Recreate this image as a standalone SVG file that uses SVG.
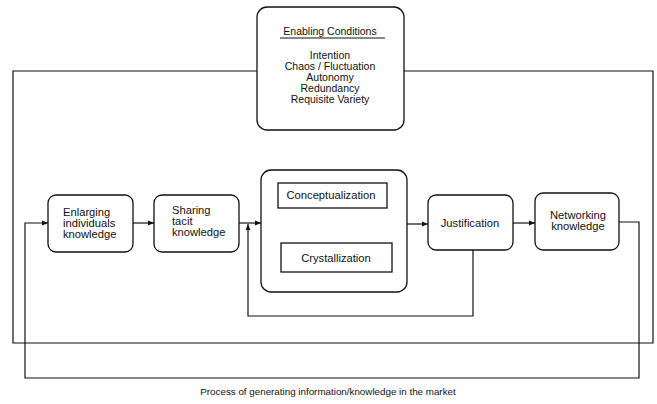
<svg xmlns="http://www.w3.org/2000/svg" width="657" height="404" viewBox="0 0 657 404">
<style>
.box{fill:#fff;stroke:#111;stroke-width:1.3}
.ln{fill:none;stroke:#111;stroke-width:1.2}
text{font-family:"Liberation Sans","DejaVu Sans",sans-serif;font-size:11.2px;fill:#111}
.c{text-anchor:middle}
.e{font-size:10.5px}
</style>
<defs>
<marker id="ah" viewBox="0 0 10 10" refX="10" refY="5" markerWidth="6" markerHeight="6" orient="auto" markerUnits="userSpaceOnUse">
<path d="M0,1 L10,5 L0,9 Z" fill="#111"/>
</marker>
</defs>
<rect width="657" height="404" fill="#fff"/>
<g id="connectors">
<path class="ln" d="M257,71 H13 V343 H653 V71 H404"/>
<path class="ln" d="M133,223 H154" marker-end="url(#ah)"/>
<path class="ln" d="M239,223 H261" marker-end="url(#ah)"/>
<path class="ln" d="M407,224 H428" marker-end="url(#ah)"/>
<path class="ln" d="M513,223 H535" marker-end="url(#ah)"/>
<path class="ln" d="M308,208 V243" marker-end="url(#ah)"/>
<path class="ln" d="M358,243 V208" marker-end="url(#ah)"/>
<path class="ln" d="M473,250 V316 H248 V224" marker-end="url(#ah)"/>
<path class="ln" d="M619,222 H639 V378 H25 V223 H48" marker-end="url(#ah)"/>
</g>
<g id="enabling">
<rect class="box" x="257" y="7" width="147" height="123" rx="10"/>
<text class="c e" x="330" y="35">Enabling Conditions</text>
<line class="ln" x1="280" y1="38" x2="385" y2="38" stroke-width="0.9"/>
<text class="c e" x="330" y="59">Intention</text>
<text class="c e" x="330" y="70">Chaos / Fluctuation</text>
<text class="c e" x="330" y="81">Autonomy</text>
<text class="c e" x="330" y="92">Redundancy</text>
<text class="c e" x="330" y="103">Requisite Variety</text>
</g>
<g id="enlarging">
<rect class="box" x="48" y="195" width="85" height="57" rx="8"/>
<text x="63" y="216">Enlarging</text>
<text x="63" y="227">individuals</text>
<text x="63" y="238">knowledge</text>
</g>
<g id="sharing">
<rect class="box" x="154" y="195" width="85" height="57" rx="8"/>
<text x="172" y="214">Sharing</text>
<text x="172" y="225">tacit</text>
<text x="172" y="236">knowledge</text>
</g>
<g id="process">
<rect class="box" x="261" y="170" width="146" height="122" rx="10"/>
</g>
<g id="conceptualization">
<rect class="box" x="278" y="183" width="109" height="25"/>
<text class="c" x="331" y="199">Conceptualization</text>
</g>
<g id="crystallization">
<rect class="box" x="281" y="243" width="111" height="29"/>
<text class="c" x="336" y="262">Crystallization</text>
</g>
<g id="justification">
<rect class="box" x="428" y="195" width="85" height="55" rx="8"/>
<text class="c" x="470" y="227">Justification</text>
</g>
<g id="networking">
<rect class="box" x="535" y="193" width="84" height="57" rx="8"/>
<text class="c" x="578" y="219">Networking</text>
<text class="c" x="578" y="230">knowledge</text>
</g>
<text class="c" x="328" y="395" style="font-size:9.8px">Process of generating information/knowledge in the market</text>
</svg>
